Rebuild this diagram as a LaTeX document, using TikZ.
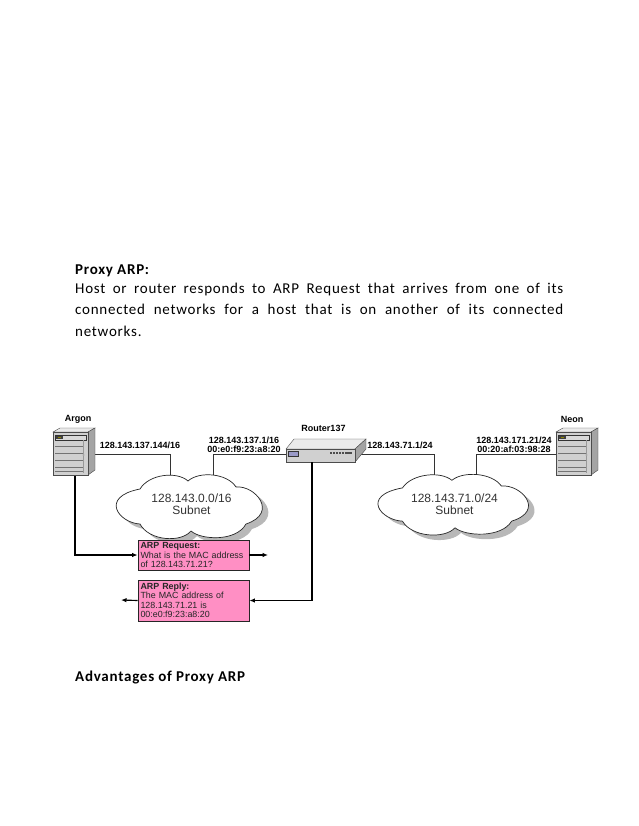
\documentclass[tikz,border=0pt]{standalone}
\usepackage{fontspec}
\setmainfont{Liberation Sans}
\newfontfamily\bodyfont[LetterSpace=5]{Carlito}
\usetikzlibrary{arrows.meta}
\definecolor{wire}{HTML}{333333}
\definecolor{pinkbox}{HTML}{FF8FC4}
\definecolor{cloudshade}{HTML}{B8B8B8}
\definecolor{srvfront}{HTML}{D0D0D0}
\definecolor{srvtop}{HTML}{EAEAEA}
\definecolor{srvside}{HTML}{A4A4A4}
\tikzset{
  thinwire/.style={draw=wire,line width=0.7pt},
  thickwire/.style={draw=black,line width=1.15pt},
  arrowwire/.style={thickwire,-{Latex[length=5.5pt,width=4.5pt]}},
  addr/.style={font=\fontsize{9}{9}\selectfont\bfseries,text=black,inner sep=0pt,align=center},
  devname/.style={font=\fontsize{9}{9}\selectfont\bfseries,text=black,inner sep=0pt},
  cloudlabel/.style={font=\fontsize{12}{12.2}\selectfont,text=black!80,inner sep=0pt,align=center},
  msgbox/.style={draw=black!85,line width=0.8pt,fill=pinkbox,inner sep=0pt,minimum width=111pt,
     text=black!85,font=\fontsize{8.9}{9.5}\selectfont,align=left,text width=106pt},
  doc/.style={font=\bodyfont\fontsize{15}{21.5}\selectfont,text=black,inner sep=0pt,anchor=north west},
  dochead/.style={doc,font=\bodyfont\bfseries\fontsize{15}{18}\selectfont},
}
\newcommand{\cloudshape}{
  (-51,-18) .. controls (-42,-33) and (-14,-36) .. (-3,-26)
  .. controls (8,-36) and (36,-34) .. (45,-20)
  .. controls (64,-22) and (88,6) .. (55,17)
  .. controls (45,35) and (10,33) .. (0,24)
  .. controls (-10,36) and (-42,34) .. (-51,17)
  .. controls (-72,16) and (-92,-10) .. (-51,-18) -- cycle}
\newcommand{\serverat}[2]{
  \begin{scope}[shift={(#1,#2)}]
    \fill[srvtop,draw=black!70,line width=.4pt] (0,4) -- (7,0) -- (42,0) -- (35,4) -- cycle;
    \fill[srvside,draw=black!70,line width=.4pt] (35,4) -- (42,0) -- (42,42) -- (35,47) -- cycle;
    \fill[srvfront,draw=black!70,line width=.6pt] (0,4) rectangle (35,47);
    \fill[white!85!black,draw=black!80,line width=.5pt] (2,7) rectangle (33,12);
    \fill[black!75] (3,8) rectangle (10,11);
    \fill[olive] (5,9) rectangle (8,10);
    \draw[black!55,line width=.4pt] (2,18) -- (30,18) (2,25) -- (30,25) (2,32) -- (30,32) (2,39) -- (30,39) (2,43) -- (30,43);
    \draw[black!40,line width=.5pt] (30,12) -- (30,45);
    \fill[black!35] (30.5,27) circle (1.2pt);
  \end{scope}}
\newcommand{\gp}{\hspace{\fill}}
\newcommand{\fillline}[1]{\leavevmode\hbox to 488pt{#1}}
\begin{document}
\begin{tikzpicture}[x=1pt,y=-1pt]
\useasboundingbox (0,0) rectangle (638,826);
\fill[white] (0,0) rectangle (638,826);

% document text
\node[dochead] (title) at (75,264.5) {Proxy ARP:};
\node[doc,text width=488pt,align=left] (body) at (75,282.5)
  {\fillline{Host\gp or\gp router\gp responds\gp to\gp ARP\gp Request\gp that\gp arrives\gp from\gp one\gp of\gp its}\\
   \fillline{connected\gp networks\gp for\gp a\gp host\gp that\gp is\gp on\gp another\gp of\gp its\gp connected}\\
   networks.};
\node[dochead] (adv) at (75,671) {Advantages of Proxy ARP};

% attachment points
\coordinate (argonR) at (95,454);
\coordinate (argonB) at (75,476);
\coordinate (neonL) at (556,454);
\coordinate (routerL) at (286,454);
\coordinate (routerR) at (355,454);
\coordinate (routerB) at (312,462);
\coordinate (c1a) at (170,479);
\coordinate (c1b) at (213,479);
\coordinate (c2a) at (434,479);
\coordinate (c2b) at (476,479);
\coordinate (reqOut) at (268,555);
\coordinate (repOut) at (121,600);

% wires to clouds
\draw[thinwire] (argonR) -| (c1a);
\draw[thinwire] (routerL) -| (c1b);
\draw[thinwire] (routerR) -| (c2a);
\draw[thinwire] (neonL) -| (c2b);

% clouds
\fill[cloudshade,shift={(197,512)}] \cloudshape;
\draw[fill=white,draw=black!85,line width=.7pt,shift={(191,507)}] \cloudshape;
\fill[cloudshade,shift={(461,510)},yscale=.95,xscale=1.03] \cloudshape;
\draw[fill=white,draw=black!85,line width=.7pt,shift={(455,505)},yscale=.95,xscale=1.03] \cloudshape;
\node[cloudlabel] (net1) at (191.5,504) {128.143.0.0/16\\Subnet};
\node[cloudlabel] (net2) at (454.5,504) {128.143.71.0/24\\Subnet};

% devices
\serverat{53}{428}
\serverat{556}{428}
\fill[srvtop,draw=black!70,line width=.4pt] (286,449) -- (294,439) -- (366,439) -- (355,449) -- cycle;
\fill[srvside,draw=black!70,line width=.4pt] (355,449) -- (366,439) -- (366,449) -- (355,462) -- cycle;
\fill[srvfront,draw=black!70,line width=.5pt] (286,449) rectangle (355,462);
\fill[blue!45!black!40!white,draw=black!80,line width=.5pt] (288,451) rectangle (298,456);
\foreach \i in {0,...,7} \fill[black!70] (330+2.9*\i,454) rectangle +(2.1,-2.4);

% labels
\node[devname] (argon) at (78,419.5) {Argon};
\node[devname] (neon) at (572,419.5) {Neon};
\node[devname] (router) at (323.5,428.5) {Router137};
\node[addr] (a1) at (140,445) {128.143.137.144/16};
\node[addr] (a2) at (244,444.5) {128.143.137.1/16\\00:e0:f9:23:a8:20};
\node[addr] (a3) at (400,445) {128.143.71.1/24};
\node[addr] (a4) at (514,444.5) {128.143.171.21/24\\00:20:af:03:98:28};

% message boxes
\node[msgbox,minimum height=30pt] (req) at (193.5,555)
  {\textbf{ARP Request:}\\What is the MAC address\\of 128.143.71.21?};
\node[msgbox,minimum height=41pt] (rep) at (193.5,600.5)
  {\textbf{ARP Reply:}\\The MAC address of\\128.143.71.21 is\\00:e0:f9:23:a8:20};

% arrows
\draw[arrowwire] (argonB) |- (req.west);
\draw[arrowwire] (routerB) |- (rep.east);
\draw[arrowwire] (req.east) -- (reqOut);
\draw[arrowwire] (rep.west) -- (repOut);
\end{tikzpicture}
\end{document}
